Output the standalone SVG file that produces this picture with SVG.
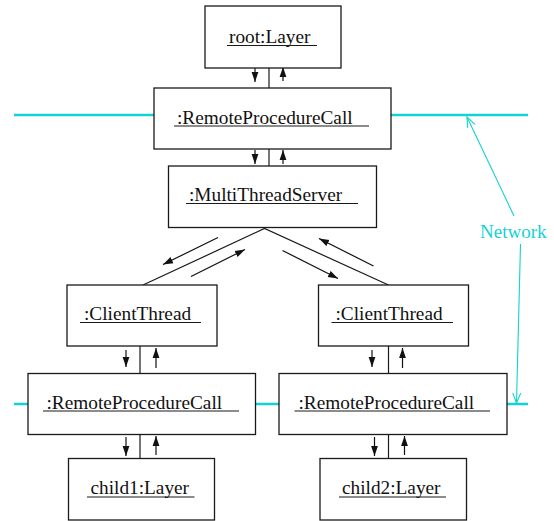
<svg xmlns="http://www.w3.org/2000/svg" width="554" height="521" viewBox="0 0 554 521">
<style>
.box{fill:#fff;stroke:#1a1a1a;stroke-width:1.3}
.lbl{font-family:"Liberation Serif","Times New Roman",serif;font-size:19.3px;fill:#111}
.ul{stroke:#1a1a1a;stroke-width:1.2}
.ln{stroke:#1a1a1a;stroke-width:1.2;fill:none}
.ar{stroke:#111;stroke-width:1.2;fill:none;marker-end:url(#ah)}
.net{stroke:#12d2d2;stroke-width:2.5;fill:none}
.netar{stroke:#12d2d2;stroke-width:1.1;fill:none;marker-end:url(#oh)}
.nettxt{font-family:"Liberation Serif","Times New Roman",serif;font-size:19px;fill:#12d2d2}
</style>
<defs>
<marker id="ah" markerUnits="userSpaceOnUse" markerWidth="11" markerHeight="8" viewBox="0 0 11 8" refX="10" refY="4" orient="auto">
<path d="M0,0.6 L10,4 L0,7.4 Z" fill="#111"/>
</marker>
<marker id="oh" markerUnits="userSpaceOnUse" markerWidth="12" markerHeight="10" viewBox="0 0 12 10" refX="11" refY="5" orient="auto">
<path d="M1,1 L11,5 L1,9" fill="none" stroke="#12d2d2" stroke-width="1.1"/>
</marker>
</defs>

<g id="network">
<line class="net" x1="14" y1="115" x2="154" y2="115"/>
<line class="net" x1="391" y1="115" x2="528" y2="115"/>
<line class="net" x1="14" y1="404" x2="28" y2="404"/>
<line class="net" x1="255" y1="404" x2="280" y2="404"/>
<line class="net" x1="507" y1="404" x2="528" y2="404"/>
<text class="nettxt" x="480" y="237.5">Network</text>
<line class="netar" x1="514" y1="216" x2="467" y2="117"/>
<line class="netar" x1="520.5" y1="244" x2="516.5" y2="403"/>
</g>

<g id="connectors">
<line class="ln" x1="269" y1="68" x2="269" y2="88"/>
<line class="ar" x1="255" y1="68" x2="255" y2="82"/>
<line class="ar" x1="283" y1="81" x2="283" y2="67"/>

<line class="ln" x1="269" y1="149" x2="269" y2="166"/>
<line class="ar" x1="255" y1="150" x2="255" y2="164"/>
<line class="ar" x1="283" y1="164" x2="283" y2="150"/>

<polyline class="ln" points="143,285 264.5,228.5 388.5,285"/>
<line class="ar" x1="218" y1="237.5" x2="163" y2="264.5"/>
<line class="ar" x1="191" y1="276.5" x2="245" y2="249.5"/>
<line class="ar" x1="282.5" y1="250.5" x2="338" y2="278.5"/>
<line class="ar" x1="373.5" y1="266" x2="319" y2="238.5"/>

<line class="ln" x1="140" y1="346" x2="140" y2="373"/>
<line class="ar" x1="126" y1="350" x2="126" y2="367"/>
<line class="ar" x1="156" y1="368" x2="156" y2="348"/>
<line class="ln" x1="140" y1="434" x2="140" y2="458"/>
<line class="ar" x1="126" y1="437" x2="126" y2="456"/>
<line class="ar" x1="156" y1="455" x2="156" y2="436"/>

<line class="ln" x1="388.5" y1="346" x2="388.5" y2="373"/>
<line class="ar" x1="372" y1="350" x2="372" y2="367"/>
<line class="ar" x1="402.5" y1="368" x2="402.5" y2="348"/>
<line class="ln" x1="388.5" y1="434" x2="388.5" y2="458"/>
<line class="ar" x1="374.5" y1="437" x2="374.5" y2="456"/>
<line class="ar" x1="404.5" y1="455" x2="404.5" y2="436"/>
</g>

<g id="root">
<rect class="box" x="205" y="6" width="136" height="62"/>
<text class="lbl" x="229" y="42.5">root:Layer</text>
<line class="ul" x1="227" y1="45.5" x2="317" y2="45.5"/>
</g>

<g id="rpcTop">
<rect class="box" x="154" y="88" width="237" height="61"/>
<text class="lbl" x="177" y="123.5">:RemoteProcedureCall</text>
<line class="ul" x1="174" y1="126" x2="369" y2="126"/>
</g>

<g id="server">
<rect class="box" x="168.5" y="166" width="208" height="61.5"/>
<text class="lbl" x="189" y="200.5">:MultiThreadServer</text>
<line class="ul" x1="186" y1="203.5" x2="358" y2="203.5"/>
</g>

<g id="client1">
<rect class="box" x="67" y="285" width="150" height="61"/>
<text class="lbl" x="84" y="320">:ClientThread</text>
<line class="ul" x1="80" y1="322.5" x2="201" y2="322.5"/>
</g>

<g id="client2">
<rect class="box" x="318.5" y="285" width="150" height="61"/>
<text class="lbl" x="335.5" y="320">:ClientThread</text>
<line class="ul" x1="331.5" y1="322.5" x2="453" y2="322.5"/>
</g>

<g id="rpc1">
<rect class="box" x="28" y="373.5" width="227.5" height="61"/>
<text class="lbl" x="46.5" y="408.5">:RemoteProcedureCall</text>
<line class="ul" x1="43" y1="411" x2="239" y2="411"/>
</g>

<g id="rpc2">
<rect class="box" x="279" y="373.5" width="228" height="61"/>
<text class="lbl" x="298.5" y="408.5">:RemoteProcedureCall</text>
<line class="ul" x1="294.5" y1="411" x2="490" y2="411"/>
</g>

<g id="child1">
<rect class="box" x="68.5" y="458.5" width="146" height="61.5"/>
<text class="lbl" x="90.5" y="494">child1:Layer</text>
<line class="ul" x1="87" y1="497" x2="194.5" y2="497"/>
</g>

<g id="child2">
<rect class="box" x="320" y="458.5" width="146.5" height="61.5"/>
<text class="lbl" x="342" y="494">child2:Layer</text>
<line class="ul" x1="339" y1="497" x2="446" y2="497"/>
</g>
</svg>
